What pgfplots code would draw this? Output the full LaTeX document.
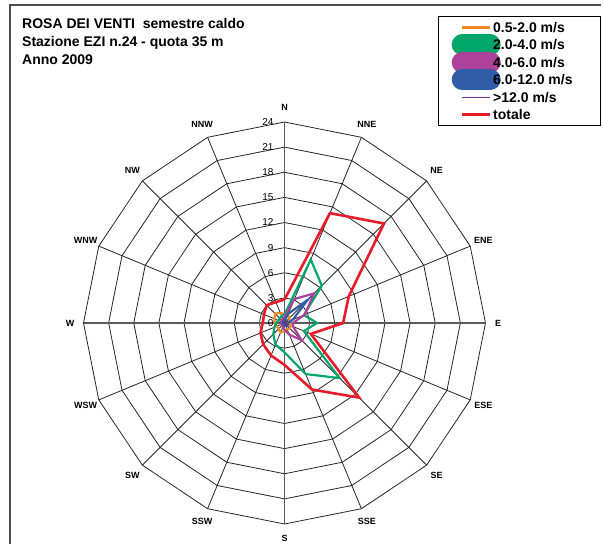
\documentclass[border=0pt]{standalone}
\usepackage{fontspec}
\setmainfont{Liberation Sans}
\usepackage{pgfplots}
\pgfplotsset{compat=1.18}
\definecolor{cOr}{RGB}{240,138,36}
\definecolor{cGr}{RGB}{0,166,107}
\definecolor{cPu}{RGB}{172,66,154}
\definecolor{cBl}{RGB}{47,93,168}
\definecolor{cDp}{RGB}{110,44,140}
\definecolor{cRe}{RGB}{232,28,40}
\pgfplotsset{
  gridl/.style={black!85, line width=0.8bp, forget plot, data cs=polar, mark=none},
  lineimg/.style={legend image code/.code={\path[draw=none,fill=none] (-20bp,-5bp) rectangle (31bp,5bp); \draw[##1, overlay] (0bp,0bp)--(28bp,0bp);}},
  blobimg/.style={legend image code/.code={\path[draw=none,fill=none] (-20bp,-5bp) rectangle (31bp,5bp); \draw[##1, line width=21bp, line cap=round, overlay] (0bp,0bp)--(28bp,0bp);}},
}
\begin{document}
\begin{tikzpicture}[x=1bp,y=1bp]
\useasboundingbox (0bp,0bp) rectangle (603bp,-544bp);
\fill[white] (0bp,0bp) rectangle (603bp,-544bp);
\draw[black!70, line width=1.8bp] (10bp,-544bp) -- (10bp,-5bp) -- (601bp,-5bp);
\node[anchor=base west, inner sep=0, font=\bfseries\fontsize{14bp}{17bp}\selectfont] at (22bp,-28.5bp) {ROSA DEI VENTI\ \ semestre caldo};
\node[anchor=base west, inner sep=0, font=\bfseries\fontsize{14bp}{17bp}\selectfont] at (22bp,-46.5bp) {Stazione EZI n.24 - quota 35 m};
\node[anchor=base west, inner sep=0, font=\bfseries\fontsize{14bp}{17bp}\selectfont] at (22bp,-64.5bp) {Anno 2009};
\begin{axis}[at={(284.5bp,-323bp)}, anchor=center, width=402bp, height=402bp, scale only axis,
  xmin=-24, xmax=24, ymin=-24, ymax=24, hide axis, clip=false,
  legend style={at={(0.8826,1.2637)}, anchor=north west, draw=black, line width=1bp,
    inner xsep=3.4bp, inner ysep=6bp, row sep=7.4bp,
    font=\bfseries\fontsize{14bp}{16bp}\selectfont,
    nodes={inner sep=0bp, text height=10bp, text depth=0bp}},
  legend cell align=left]
% grid rings
\pgfplotsinvokeforeach{3,6,9,12,15,18,21,24}{
\addplot[gridl] coordinates {(90,#1)(67.5,#1)(45,#1)(22.5,#1)(0,#1)(-22.5,#1)(-45,#1)(-67.5,#1)(-90,#1)(-112.5,#1)(-135,#1)(-157.5,#1)(180,#1)(157.5,#1)(135,#1)(112.5,#1)(90,#1)};
}
% spokes
\pgfplotsinvokeforeach{67.5,45,22.5,-22.5,-45,-67.5,-112.5,-135,-157.5,157.5,135,112.5}{
\addplot[gridl] coordinates {(#1,0)(#1,24)};
}
\addplot[gridl, black!65, line width=1.1bp] coordinates {(90,24)(90,0)(-90,24)};
\addplot[gridl, black!65, line width=1.1bp] coordinates {(0,24)(0,0)(180,24)};
% series (angle, value): N NNE NE ENE E ESE SE SSE S SSW SW WSW W WNW NW NNW
\addplot[cOr, line width=2.2bp, data cs=polar, lineimg] coordinates {(90,1.1)(67.5,1.0)(45,0.9)(22.5,0.6)(0,0.7)(-22.5,0.8)(-45,0.9)(-67.5,0.8)(-90,1.0)(-112.5,1.2)(-135,1.0)(-157.5,1.0)(180,1.2)(157.5,1.3)(135,1.6)(112.5,1.3)(90,1.1)};
\addlegendentry{\makebox[104bp][l]{0.5-2.0 m/s}}
\addplot[cGr, line width=2.2bp, data cs=polar, blobimg] coordinates {(90,1.0)(67.5,8.2)(45,6.3)(22.5,2.5)(0,3.9)(-22.5,2.5)(-45,9.3)(-67.5,6.6)(-90,3.5)(-112.5,2.8)(-135,1.9)(-157.5,1.3)(180,1.0)(157.5,0.8)(135,0.8)(112.5,0.9)(90,1.0)};
\addlegendentry{\makebox[104bp][l]{2.0-4.0 m/s}}
\addplot[cPu, line width=2.2bp, data cs=polar, blobimg] coordinates {(90,0.7)(67.5,3.1)(45,5.0)(22.5,2.6)(0,1.0)(-22.5,1.1)(-45,2.9)(-67.5,1.5)(-90,0.8)(-112.5,0.5)(-135,0.4)(-157.5,0.4)(180,0.4)(157.5,0.4)(135,0.5)(112.5,0.5)(90,0.7)};
\addlegendentry{\makebox[104bp][l]{4.0-6.0 m/s}}
\addplot[cBl, line width=2.2bp, data cs=polar, blobimg] coordinates {(90,0.3)(67.5,1.2)(45,3.9)(22.5,1.1)(0,0.4)(-22.5,0.3)(-45,0.5)(-67.5,0.3)(-90,0.2)(-112.5,0.2)(-135,0.2)(-157.5,0.2)(180,0.2)(157.5,0.2)(135,0.2)(112.5,0.2)(90,0.3)};
\addlegendentry{\makebox[104bp][l]{6.0-12.0 m/s}}
\addplot[cDp, line width=1bp, data cs=polar, lineimg] coordinates {(90,0.1)(67.5,0.1)(45,0.2)(22.5,0.1)(0,0.1)(-22.5,0.1)(-45,0.6)(-67.5,0.1)(-90,0.1)(-112.5,0.1)(-135,0.1)(-157.5,0.1)(180,0.1)(157.5,0.1)(135,0.1)(112.5,0.1)(90,0.1)};
\addlegendentry{\makebox[104bp][l]{>12.0 m/s}}
\addplot[cRe, line width=2.6bp, data cs=polar, lineimg] coordinates {(90,2.8)(67.5,14.2)(45,16.8)(22.5,8.3)(0,7.0)(-22.5,3.4)(-45,12.6)(-67.5,8.6)(-90,5.0)(-112.5,4.2)(-135,3.6)(-157.5,3.1)(180,2.6)(157.5,2.65)(135,3.0)(112.5,2.7)(90,2.8)};
\addlegendentry{\makebox[104bp][l]{totale}}
% ring labels
\begin{scope}[every node/.style={anchor=east, inner sep=0, font=\fontsize{10bp}{12bp}\selectfont}]
\node at (axis cs:-1.3,0) {0};
\node at (axis cs:-1.3,3) {3};
\node at (axis cs:-1.3,6) {6};
\node at (axis cs:-1.3,9) {9};
\node at (axis cs:-1.3,12) {12};
\node at (axis cs:-1.3,15) {15};
\node at (axis cs:-1.3,18) {18};
\node at (axis cs:-1.3,21) {21};
\node at (axis cs:-1.3,24) {24};
\end{scope}
% direction labels
\begin{scope}[every node/.style={font=\bfseries\fontsize{9bp}{10bp}\selectfont, inner sep=0}]
\node at (axis cs:0,25.7) {N};
\node at (axis cs:9.84,23.74) {NNE};
\node at (axis cs:18.17,18.17) {NE};
\node at (axis cs:23.74,9.84) {ENE};
\node at (axis cs:25.5,0) {E};
\node at (axis cs:23.74,-9.84) {ESE};
\node at (axis cs:18.17,-18.17) {SE};
\node at (axis cs:9.84,-23.74) {SSE};
\node at (axis cs:0,-25.7) {S};
\node at (axis cs:-9.84,-23.74) {SSW};
\node at (axis cs:-18.17,-18.17) {SW};
\node at (axis cs:-23.74,-9.84) {WSW};
\node at (axis cs:-25.6,0) {W};
\node at (axis cs:-23.74,9.84) {WNW};
\node at (axis cs:-18.17,18.17) {NW};
\node at (axis cs:-9.84,23.74) {NNW};
\end{scope}
\end{axis}
\end{tikzpicture}
\end{document}
